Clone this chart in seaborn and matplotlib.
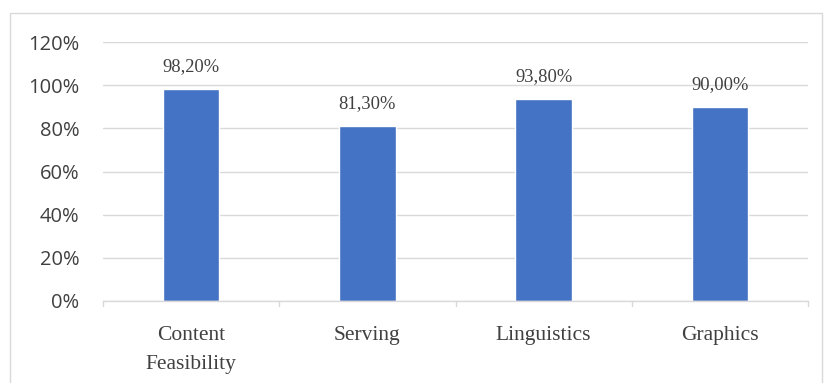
import matplotlib
matplotlib.use("Agg")
import matplotlib.pyplot as plt
from matplotlib.patches import Rectangle
import seaborn as sns
import pandas as pd

categories = ["Content\nFeasibility", "Serving", "Linguistics", "Graphics"]
values = [0.982, 0.813, 0.938, 0.900]
value_labels = ["98,20%", "81,30%", "93,80%", "90,00%"]
yticks = [0, 0.2, 0.4, 0.6, 0.8, 1.0, 1.2]
ytick_labels = ["0%", "20%", "40%", "60%", "80%", "100%", "120%"]

sns.set_theme(style="white")
plt.rcParams['font.family'] = ['Open Sans', 'DejaVu Sans']

df = pd.DataFrame({"cat": categories, "val": values})

fig = plt.figure(figsize=(8.24, 3.83), dpi=100)
ax = fig.add_axes([103/824, 82/383, 705/824, 259/383])
sns.barplot(data=df, x="cat", y="val", color="#4472C4", width=0.32, saturation=1, ax=ax)

ax.set_ylim(0, 1.2)
ax.set_xlim(-0.5, 3.5)
ax.set_yticks(yticks)
ax.set_yticklabels(ytick_labels, fontsize=14.5, color="#404040")
ax.set_xlabel("")
ax.set_ylabel("")
ax.set_xticks(range(len(categories)))
ax.set_xticklabels(categories, fontsize=15.5, color="#404040", family="Liberation Serif",
                   linespacing=1.75)
ax.tick_params(axis="x", length=0, pad=18)
ax.tick_params(axis="y", length=0, pad=17)
ax.grid(axis="y", color="#d9d9d9", linewidth=1)
ax.set_axisbelow(True)
for s in ["top", "right", "left"]:
    ax.spines[s].set_visible(False)
ax.spines["bottom"].set_color("#d9d9d9")
ax.spines["bottom"].set_linewidth(1)

# category boundary tick marks
for b in [-0.5, 0.5, 1.5, 2.5, 3.5]:
    ax.plot([b, b], [0, -0.025], color="#d9d9d9", lw=1, clip_on=False)

for i, (v, lab) in enumerate(zip(values, value_labels)):
    ax.annotate(lab, (i, v), xytext=(0, 10), textcoords="offset points",
                ha="center", va="bottom", fontsize=13.3, color="#404040",
                family="Liberation Serif")

fig.patches.append(Rectangle((10/824, -0.05), 812/824, 1.05 - 13/383,
                             transform=fig.transFigure, fill=False,
                             edgecolor="#d9d9d9", linewidth=1))

fig.savefig("out.png", dpi=100)
